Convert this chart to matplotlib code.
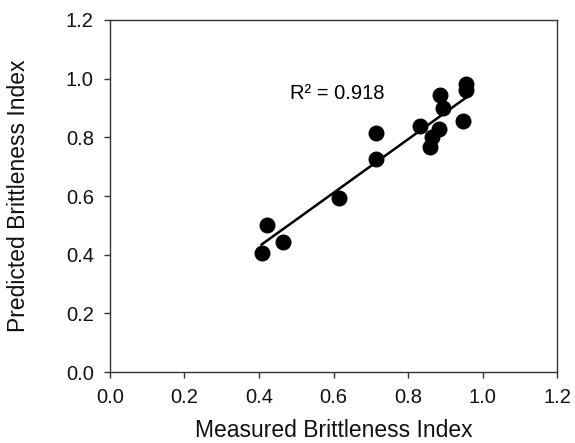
import numpy as np
import matplotlib.pyplot as plt

plt.rcParams['font.family'] = ['Liberation Sans', 'DejaVu Sans']

# Datos
measured = [0.407, 0.421, 0.464, 0.615, 0.714, 0.714, 0.833, 0.859, 0.864,
            0.883, 0.886, 0.893, 0.947, 0.955, 0.955]
predicted = [0.405, 0.501, 0.444, 0.594, 0.814, 0.726, 0.839, 0.766, 0.802,
             0.827, 0.944, 0.901, 0.857, 0.981, 0.961]
r2_text = 'R² = 0.918'

x = np.array(measured)
y = np.array(predicted)

fig = plt.figure(figsize=(5.75, 4.43), dpi=100)
ax = fig.add_axes([0.191, 0.160, 0.778, 0.795])

ax.scatter(x, y, s=110, color='black', zorder=3)

# Línea de tendencia
m, b = np.polyfit(x, y, 1)
xl = np.array([x.min(), x.max()])
ax.plot(xl, m * xl + b, color='black', linewidth=1.8, zorder=2)

ax.text(0.483, 0.951, r2_text, fontsize=14.5, va='center', ha='left')

ticks = np.arange(0, 1.21, 0.2)
ax.set_xlim(0, 1.2)
ax.set_ylim(0, 1.2)
ax.set_xticks(ticks)
ax.set_yticks(ticks)
ax.set_xticklabels([f'{v:.1f}' for v in ticks])
ax.set_yticklabels([f'{v:.1f}' for v in ticks])
ax.tick_params(direction='out', length=4.5, width=1, labelsize=14.5, pad=7,
               colors='#333333', labelcolor='#111111')
for s in ax.spines.values():
    s.set_color('#333333')
    s.set_linewidth(1)

ax.set_xlabel('Measured Brittleness Index', fontsize=16.5, color='#111111')
ax.set_ylabel('Predicted Brittleness Index', fontsize=16.5, color='#111111')
ax.xaxis.set_label_coords(0.5, -0.134)
ax.yaxis.set_label_coords(-0.179, 0.5)

fig.savefig('out.png', dpi=100)
